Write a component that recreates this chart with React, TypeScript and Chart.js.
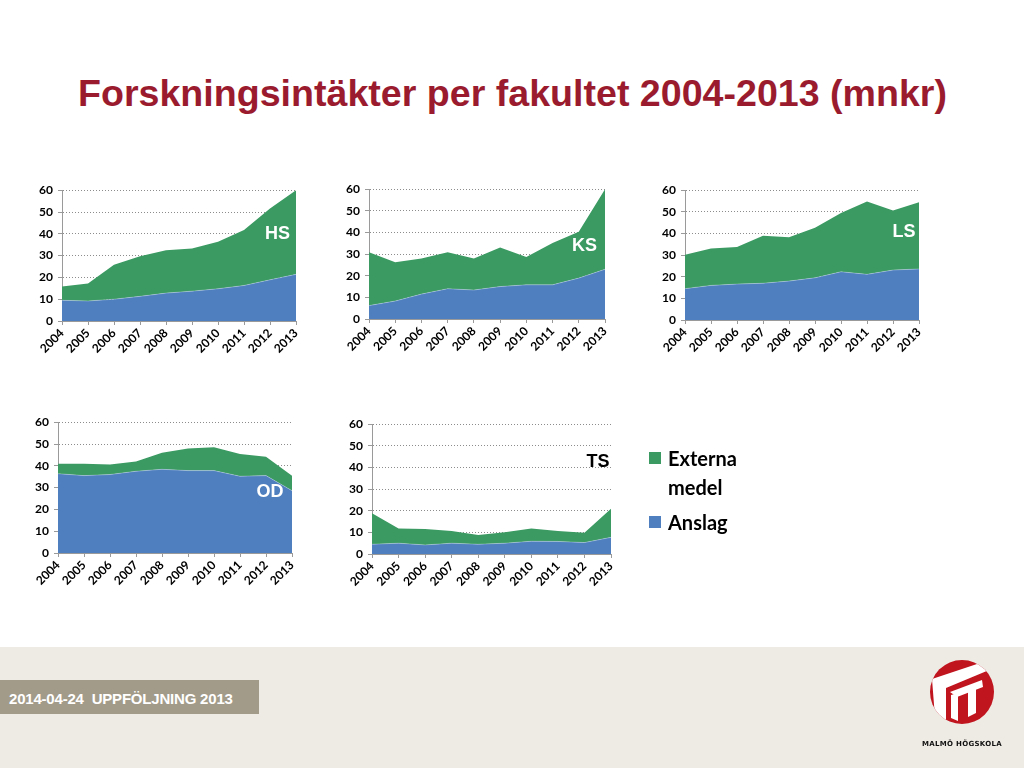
import React, { useEffect, useLayoutEffect, useRef, useState } from 'react';
import { Chart, registerables } from 'chart.js';

Chart.register(...registerables);

// ---------- data ----------
const years = ['2004', '2005', '2006', '2007', '2008', '2009', '2010', '2011', '2012', '2013'];
const yTicks = [0, 10, 20, 30, 40, 50, 60];

const hsAnslag = [9.5, 9.2, 10, 11.3, 12.8, 13.7, 14.8, 16.3, 18.9, 21.4];
const hsExterna = [6.3, 8.0, 15.8, 18.4, 19.6, 19.6, 21.5, 25.5, 32.7, 38.6];

const ksAnslag = [6.2, 8.3, 11.5, 14, 13.4, 15, 15.8, 15.8, 18.9, 23];
const ksExterna = [24.6, 17.9, 16.5, 16.8, 14.6, 18, 12.9, 19.3, 21.4, 37];

const lsAnslag = [14.5, 16, 16.6, 17, 18, 19.5, 22.3, 21.1, 23.1, 23.6];
const lsExterna = [15.7, 17, 17.1, 22, 20.2, 23.2, 27.2, 33.7, 27.5, 30.8];

const odAnslag = [36.4, 35.5, 36, 37.5, 38.4, 37.8, 37.8, 35.2, 35.5, 28.6];
const odExterna = [4.5, 5.4, 4.6, 4.5, 7.6, 10.1, 10.7, 10.2, 8.7, 6.8];

const tsAnslag = [4.5, 5, 4.2, 5, 4.5, 5, 5.9, 5.8, 5.3, 7.7];
const tsExterna = [14.3, 6.8, 7.3, 5.6, 4.3, 5, 5.9, 4.8, 4.5, 13.2];

const seriesNames = ['Anslag', 'Externa medel'];
const titleText = 'Forskningsintäkter per fakultet 2004-2013 (mnkr)';
const footerText = '2014-04-24  UPPFÖLJNING 2013';
const logoText = 'MALMÖ HÖGSKOLA';

// ---------- styles ----------
const GREEN = '#3A9A62';
const BLUE = '#4F7FBF';
const TITLE_RED = '#9B1B2E';
const AX_W = 50;
const PAD_T = 10;
const PAD_R = 14;
const AX_H = 48;
const TICK_FONT = { family: 'Lato, "Open Sans", sans-serif', size: 12, weight: 'bold' as const };

type ChartProps = {
  anslag: number[];
  externa: number[];
  pl: number;
  pt: number;
  pw: number;
  ph: number;
};

function SmallChart({ anslag, externa, pl, pt, pw, ph }: ChartProps) {
  const ref = useRef<HTMLCanvasElement>(null);
  const cw = pw + AX_W + PAD_R;
  const chh = ph + PAD_T + AX_H;
  useEffect(() => {
    if (!ref.current) return;
    const chart = new Chart(ref.current, {
      type: 'line',
      data: {
        labels: years,
        datasets: [
          {
            label: seriesNames[0],
            data: anslag,
            backgroundColor: BLUE,
            borderColor: 'rgba(255,255,255,0.35)',
            borderWidth: 0.8,
            fill: 'origin',
            pointRadius: 0,
            tension: 0,
          },
          {
            label: seriesNames[1],
            data: externa,
            backgroundColor: GREEN,
            borderColor: GREEN,
            borderWidth: 0,
            fill: '-1',
            pointRadius: 0,
            tension: 0,
          },
        ],
      },
      options: {
        animation: false,
        responsive: false,
        maintainAspectRatio: false,
        events: [],
        layout: { padding: { top: PAD_T, right: PAD_R, left: 0, bottom: 0 } },
        plugins: { legend: { display: false }, tooltip: { enabled: false } },
        scales: {
          x: {
            type: 'category',
            offset: false,
            grid: {
              display: true,
              drawOnChartArea: false,
              drawTicks: true,
              tickLength: 4,
              tickColor: '#9a9a9a',
              offset: false,
            },
            border: { color: '#9a9a9a', width: 1 },
            ticks: {
              font: TICK_FONT,
              color: '#000',
              minRotation: 45,
              maxRotation: 45,
              autoSkip: false,
              padding: 1,
            },
            afterFit: (s: any) => {
              s.height = AX_H;
            },
          },
          y: {
            stacked: true,
            min: yTicks[0],
            max: yTicks[yTicks.length - 1],
            afterBuildTicks: (s: any) => {
              s.ticks = yTicks.map((v) => ({ value: v }));
            },
            ticks: { font: TICK_FONT, color: '#000', padding: 5 },
            grid: {
              color: '#8c8c8c',
              lineWidth: 1,
              tickColor: '#9a9a9a',
              tickLength: 4,
              tickBorderDash: [],
            },
            border: { dash: [1, 2], color: '#9a9a9a', width: 1 },
            afterFit: (s: any) => {
              s.width = AX_W;
            },
          },
        },
      },
    } as any);
    return () => chart.destroy();
  }, []);
  return (
    <canvas
      ref={ref}
      width={cw}
      height={chh}
      style={{ position: 'absolute', left: pl - AX_W, top: pt - PAD_T, width: cw, height: chh }}
    />
  );
}

function Title() {
  const ref = useRef<HTMLSpanElement>(null);
  const [scale, setScale] = useState(1);
  const target = 869;
  useLayoutEffect(() => {
    if (ref.current) {
      const w = ref.current.getBoundingClientRect().width;
      if (w > 0) setScale(target / w);
    }
  }, []);
  return (
    <div style={{ position: 'absolute', left: 78, top: 74.5, width: target, height: 40, overflow: 'visible' }}>
      <span
        ref={ref}
        style={{
          display: 'inline-block',
          whiteSpace: 'nowrap',
          fontFamily: '"Liberation Sans", Arial, sans-serif',
          fontWeight: 'bold',
          fontSize: 37,
          lineHeight: '37px',
          color: TITLE_RED,
          transformOrigin: '0 0',
          transform: `scaleX(${scale})`,
        }}
      >
        {titleText}
      </span>
    </div>
  );
}

const facLabel = (text: string, left: number, top: number, color: string) => (
  <div
    style={{
      position: 'absolute',
      left,
      top,
      fontFamily: '"Liberation Sans", Arial, sans-serif',
      fontWeight: 'bold',
      fontSize: 18,
      lineHeight: '18px',
      color,
      whiteSpace: 'nowrap',
    }}
  >
    {text}
  </div>
);

function Logo() {
  const cx = 962;
  const cy = 692;
  const r = 32;
  return (
    <svg
      width={1024}
      height={768}
      style={{ position: 'absolute', left: 0, top: 0, pointerEvents: 'none' }}
    >
      <defs>
        <clipPath id="logoClip">
          <circle cx={cx} cy={cy} r={r} />
        </clipPath>
      </defs>
      <circle cx={cx} cy={cy} r={r} fill="#C0141E" />
      <g clipPath="url(#logoClip)" fill="#fff">
        <polygon points="932,679 989,660 994,668 946,688 946,730 936,730" />
        <polygon points="950,692 982,680 983,687 957,697" />
        <polygon points="951,695 958,693 958,721 951,718" />
        <polygon points="968,689 976,686 976,713 968,717" />
      </g>
    </svg>
  );
}

export default function App() {
  return (
    <div
      style={{
        position: 'absolute',
        left: 0,
        top: 0,
        width: 1024,
        height: 768,
        overflow: 'hidden',
        background: '#fff',
      }}
    >
      <Title />

      <SmallChart anslag={hsAnslag} externa={hsExterna} pl={62} pt={188} pw={234} ph={133} />
      <SmallChart anslag={ksAnslag} externa={ksExterna} pl={369} pt={187} pw={236} ph={132} />
      <SmallChart anslag={lsAnslag} externa={lsExterna} pl={685} pt={188} pw={234} ph={132} />
      <SmallChart anslag={odAnslag} externa={odExterna} pl={58} pt={420} pw={234} ph={133} />
      <SmallChart anslag={tsAnslag} externa={tsExterna} pl={372} pt={422} pw={239} ph={132} />

      {facLabel('HS', 265, 224.4, '#fff')}
      {facLabel('KS', 572, 235.7, '#fff')}
      {facLabel('LS', 892.5, 222, '#fff')}
      {facLabel('OD', 256.5, 481.7, '#fff')}
      {facLabel('TS', 586.5, 452.4, '#000')}

      {/* legend */}
      <div style={{ position: 'absolute', left: 649, top: 452, width: 12, height: 12, background: GREEN }} />
      <div
        style={{
          position: 'absolute',
          left: 668,
          top: 444,
          width: 100,
          fontFamily: 'Lato, "Open Sans", sans-serif',
          fontWeight: 'bold',
          fontSize: 20,
          lineHeight: '29px',
          color: '#000',
        }}
      >
        Externa
        <br />
        medel
      </div>
      <div style={{ position: 'absolute', left: 649, top: 516, width: 12, height: 12, background: BLUE }} />
      <div
        style={{
          position: 'absolute',
          left: 668,
          top: 508,
          fontFamily: 'Lato, "Open Sans", sans-serif',
          fontWeight: 'bold',
          fontSize: 20,
          lineHeight: '29px',
          color: '#000',
        }}
      >
        {seriesNames[0]}
      </div>

      {/* footer */}
      <div style={{ position: 'absolute', left: 0, top: 647, width: 1024, height: 121, background: '#EEEAE4' }} />
      <div style={{ position: 'absolute', left: 0, top: 680, width: 259, height: 34, background: '#A39B89' }} />
      <div
        style={{
          position: 'absolute',
          left: 9,
          top: 690.5,
          fontFamily: '"Liberation Sans", Arial, sans-serif',
          fontWeight: 'bold',
          fontSize: 15,
          lineHeight: '15px',
          letterSpacing: -0.2,
          color: '#fff',
          whiteSpace: 'pre',
        }}
      >
        {footerText}
      </div>
      <Logo />
      <div
        style={{
          position: 'absolute',
          left: 912,
          top: 740,
          width: 100,
          textAlign: 'center',
          fontFamily: '"DejaVu Sans", sans-serif',
          fontWeight: 'bold',
          fontSize: 7,
          lineHeight: '8px',
          letterSpacing: 0.3,
          color: '#111',
          whiteSpace: 'nowrap',
        }}
      >
        {logoText}
      </div>
    </div>
  );
}
